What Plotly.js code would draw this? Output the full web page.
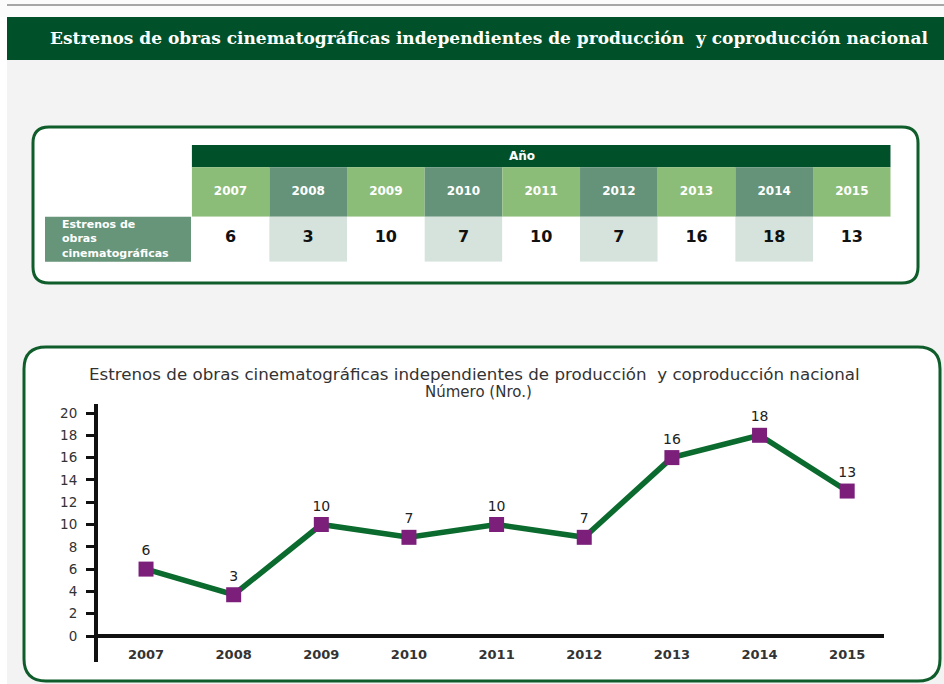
<!DOCTYPE html>
<html><head><meta charset="utf-8">
<script src="https://cdn.plot.ly/plotly-3.0.1.min.js"></script>
<style>html,body{margin:0;padding:0;background:#f3f3f3;} #chart{width:944px;height:684px;}</style>
</head><body><div id="chart"></div>
<script>
// ---- data ----
const anios = ['2007','2008','2009','2010','2011','2012','2013','2014','2015'];
const estrenos = [6, 3, 10, 7, 10, 7, 16, 18, 13];            // table values / point labels
const posicionLinea = [6, 3.7, 10, 8.85, 10, 8.85, 16, 18, 13]; // heights as drawn in the reference line
const ticksY = [0, 2, 4, 6, 8, 10, 12, 14, 16, 18, 20];
const tituloCabecera = 'Estrenos de obras cinematográficas independientes de producción  y coproducción nacional';
const tituloGrafico = 'Estrenos de obras cinematográficas independientes de producción  y coproducción nacional';
const subtituloGrafico = 'Número (Nro.)';
const encabezadoTabla = 'Año';
const etiquetaFila = 'Estrenos de<br>obras<br>cinematográficas';

// ---- helpers ----
const W = 944, H = 684;
const px = x => x / W;
const py = y => 1 - y / H;
function roundRect(x0, y0, x1, y1, r) {
  const P = (x, y) => px(x).toFixed(5) + ',' + py(y).toFixed(5);
  return 'M' + P(x0 + r, y0) + ' L' + P(x1 - r, y0) + ' Q' + P(x1, y0) + ' ' + P(x1, y0 + r) +
    ' L' + P(x1, y1 - r) + ' Q' + P(x1, y1) + ' ' + P(x1 - r, y1) +
    ' L' + P(x0 + r, y1) + ' Q' + P(x0, y1) + ' ' + P(x0, y1 - r) +
    ' L' + P(x0, y0 + r) + ' Q' + P(x0, y0) + ' ' + P(x0 + r, y0) + ' Z';
}
const alt = (a, b) => anios.map((_, i) => (i % 2 === 0 ? a : b));
const FONT = 'DejaVu Sans, Arial, sans-serif';

// table rows (y2 axis in page-pixel units, reversed)
const rowAnioTop = 167.3, rowAnioBot = 216.7, rowValBot = 261.7;

const traces = [
  // table: year row
  { type: 'bar', x: anios, y: anios.map(() => rowAnioBot - rowAnioTop), base: anios.map(() => rowAnioTop),
    width: anios.map(() => 1), xaxis: 'x2', yaxis: 'y2',
    marker: { color: alt('#8cbd78', '#64937a'), line: { width: 0 } }, hoverinfo: 'skip', showlegend: false },
  // table: value row
  { type: 'bar', x: anios, y: anios.map(() => rowValBot - rowAnioBot), base: anios.map(() => rowAnioBot),
    width: anios.map(() => 1), xaxis: 'x2', yaxis: 'y2',
    marker: { color: alt('#ffffff', '#d5e3dc'), line: { width: 0 } }, hoverinfo: 'skip', showlegend: false },
  { type: 'scatter', mode: 'text', x: anios, y: anios.map(() => 192), text: anios, xaxis: 'x2', yaxis: 'y2',
    textfont: { family: FONT, size: 12, color: '#ffffff', weight: 'bold' }, hoverinfo: 'skip', showlegend: false },
  { type: 'scatter', mode: 'text', x: anios, y: anios.map(() => 238), text: estrenos.map(String), xaxis: 'x2', yaxis: 'y2',
    textfont: { family: FONT, size: 16, color: '#111111', weight: 'bold' }, hoverinfo: 'skip', showlegend: false },
  // line chart
  { type: 'scatter', mode: 'lines+markers+text', x: anios, y: posicionLinea, text: estrenos.map(String),
    textposition: 'top center', textfont: { family: FONT, size: 14, color: '#222222' },
    line: { color: '#0b6a2d', width: 5.5 },
    marker: { symbol: 'square', size: 15, color: '#7b1f7b' }, cliponaxis: false, showlegend: false }
];

const shapes = [
  { type: 'rect', xref: 'paper', yref: 'paper', x0: 0, x1: px(7), y0: 0, y1: 1, fillcolor: '#ffffff', line: { width: 0 }, layer: 'below' },
  { type: 'rect', xref: 'paper', yref: 'paper', x0: 0, x1: 1, y0: py(17), y1: 1, fillcolor: '#fbfbfb', line: { width: 0 }, layer: 'below' },
  { type: 'line', xref: 'paper', yref: 'paper', x0: px(7), x1: 1, y0: py(5), y1: py(5), line: { color: '#8a8a8a', width: 1.5 }, layer: 'below' },
  { type: 'rect', xref: 'paper', yref: 'paper', x0: px(7), x1: 1, y0: py(60), y1: py(17), fillcolor: '#00512a', line: { width: 0 }, layer: 'below' },
  { type: 'path', xref: 'paper', yref: 'paper', path: roundRect(33, 127, 918, 283, 16), fillcolor: '#ffffff', line: { color: '#0f5d2a', width: 3 }, layer: 'below' },
  { type: 'path', xref: 'paper', yref: 'paper', path: roundRect(24, 347, 940, 681, 22), fillcolor: '#ffffff', line: { color: '#0f5d2a', width: 3 }, layer: 'below' },
  // table header bar "Año"
  { type: 'rect', xref: 'x2', yref: 'y2', x0: -0.5, x1: 8.5, y0: 145, y1: rowAnioTop, fillcolor: '#00512a', line: { width: 0 }, layer: 'below' },
  // row label cell
  { type: 'rect', xref: 'paper', yref: 'paper', x0: px(45), x1: px(191), y0: py(rowValBot), y1: py(rowAnioBot), fillcolor: '#66957a', line: { width: 0 }, layer: 'below' }
];

const annotations = [
  { xref: 'paper', yref: 'paper', x: px(489), y: py(38), xanchor: 'center', yanchor: 'middle', text: tituloCabecera, showarrow: false,
    font: { family: 'DejaVu Serif, serif', size: 17, color: '#ffffff', weight: 'bold' } },
  { xref: 'paper', yref: 'paper', x: px(522), y: py(156), xanchor: 'center', yanchor: 'middle', text: encabezadoTabla, showarrow: false,
    font: { family: FONT, size: 12, color: '#ffffff', weight: 'bold' } },
  { xref: 'paper', yref: 'paper', x: px(60), y: py(239), xanchor: 'left', yanchor: 'middle', align: 'left', text: etiquetaFila, showarrow: false,
    font: { family: FONT, size: 11, color: '#ffffff', weight: 'bold' } },
  { xref: 'paper', yref: 'paper', x: px(474), y: py(374), xanchor: 'center', yanchor: 'middle', text: tituloGrafico, showarrow: false,
    font: { family: FONT, size: 16.7, color: '#333333' } },
  { xref: 'paper', yref: 'paper', x: px(478), y: py(392), xanchor: 'center', yanchor: 'middle', text: subtituloGrafico, showarrow: false,
    font: { family: FONT, size: 15, color: '#333333' } }
];

// y axis: 0 at page y=636, 20 at page y=413, axis line from 404 to 662
const zeroPx = 636, unitPx = (636 - 413) / 20;
const yRange = [-(662 - zeroPx) / unitPx, (zeroPx - 404) / unitPx];
const layout = {
  width: W, height: H, margin: { l: 0, r: 0, t: 0, b: 0 },
  paper_bgcolor: '#f3f3f3', plot_bgcolor: 'rgba(0,0,0,0)',
  barmode: 'overlay', showlegend: false,
  shapes: shapes, annotations: annotations,
  xaxis: { type: 'category', domain: [px(98), px(884)], range: [-0.548, 8.42], anchor: 'free', position: py(zeroPx),
    showline: true, linewidth: 4, linecolor: '#111111', ticks: '', showgrid: false, zeroline: false,
    tickfont: { family: FONT, size: 13, color: '#333333', weight: 'bold' }, ticklabelstandoff: 5 },
  yaxis: { domain: [py(662), py(404)], range: yRange, tickvals: ticksY, anchor: 'x',
    showline: true, linewidth: 4, linecolor: '#111111', ticks: 'outside', ticklen: 8, tickwidth: 3, tickcolor: '#111111',
    showgrid: false, zeroline: false, tickfont: { family: FONT, size: 13.5, color: '#333333' }, ticklabelstandoff: 6 },
  yaxis3: { overlaying: 'y', anchor: 'x', side: 'left', range: yRange, tickvals: ticksY, ticks: 'inside', ticklen: 12,
    tickwidth: 3, tickcolor: '#111111', showticklabels: false, showgrid: false, zeroline: false, showline: false },
  xaxis2: { type: 'category', domain: [px(191.7), px(890.7)], range: [-0.5, 8.5], anchor: 'y2', visible: false },
  yaxis2: { domain: [py(261.7), py(145)], range: [261.7, 145], anchor: 'x2', visible: false }
};

Plotly.newPlot('chart', traces, layout, { displayModeBar: false, staticPlot: true });
</script></body></html>
